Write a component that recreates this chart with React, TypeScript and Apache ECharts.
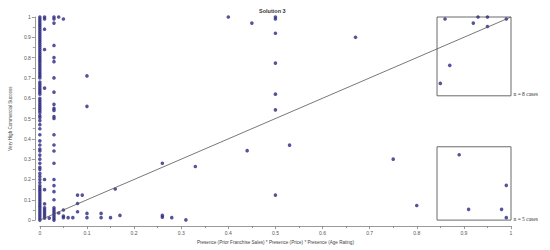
import React, { useEffect, useRef } from "react";
import * as echarts from "echarts";

// Column at x = 0
const col0Y = [1, 0.99, 0.98, 0.97, 0.96, 0.95, 0.94, 0.93, 0.92, 0.91, 0.9, 0.89, 0.88, 0.87, 0.86, 0.85, 0.84, 0.83, 0.82, 0.81, 0.8, 0.79, 0.78, 0.77, 0.76, 0.75, 0.74, 0.73, 0.72, 0.71, 0.7, 0.68, 0.67, 0.66, 0.65, 0.64, 0.63, 0.62, 0.6, 0.59, 0.58, 0.57, 0.56, 0.55, 0.54, 0.53, 0.515, 0.505, 0.49, 0.47, 0.45, 0.42, 0.39, 0.37, 0.35, 0.34, 0.32, 0.3, 0.28, 0.26, 0.25, 0.23, 0.215, 0.2, 0.185, 0.17, 0.16, 0.15, 0.14, 0.13, 0.12, 0.11, 0.1, 0.09, 0.08, 0.07, 0.06, 0.05, 0.04, 0.03, 0.02, 0.01, 0];
// Column at x = 0.01
const col01Y = [1, 0.99, 0.94, 0.84, 0.65, 0.2, 0.15, 0.08, 0.06, 0.05, 0.04, 0.03, 0.02, 0.01];
// Column at x = 0.03
const col03Y = [1, 0.99, 0.97, 0.86, 0.8, 0.78, 0.7, 0.63, 0.57, 0.55, 0.54, 0.51, 0.5, 0.42, 0.37, 0.34, 0.28, 0.2, 0.17, 0.14, 0.1, 0.06, 0.05, 0.04, 0.03, 0.02, 0.01, 0];
// Remaining cases
const otherX = [0.04, 0.05, 0.1, 0.1, 0.02, 0.04, 0.05, 0.05, 0.05, 0.06, 0.07, 0.08, 0.09, 0.08, 0.08, 0.1, 0.1, 0.13, 0.13, 0.15, 0.16, 0.17, 0.26, 0.26, 0.26, 0.28, 0.31, 0.33, 0.4, 0.45, 0.5, 0.5, 0.5, 0.5, 0.5, 0.5, 0.44, 0.53, 0.5, 0.67, 0.75, 0.8, 0.86, 0.93, 0.95, 0.92, 0.95, 0.99, 0.87, 0.85, 0.89, 0.91, 0.98, 0.99, 0.99];
const otherY = [1, 0.99, 0.71, 0.56, 0.01, 0.035, 0.05, 0.02, 0.012, 0.012, 0.012, 0.123, 0.123, 0.082, 0.041, 0.033, 0.012, 0.033, 0.012, 0.012, 0.153, 0.023, 0.28, 0.023, 0.014, 0.012, 0.001, 0.264, 1, 0.97, 1, 0.99, 0.92, 0.773, 0.62, 0.543, 0.342, 0.369, 0.123, 0.9, 0.3, 0.072, 0.99, 1, 1, 0.97, 0.953, 0.99, 0.762, 0.673, 0.322, 0.053, 0.053, 0.171, 0.012];
// Diagonal reference line
const lineX = [0, 1];
const lineY = [0, 1];
// Highlight boxes
const boxX1 = [0.843, 0.843];
const boxX2 = [1.017, 1.017];
const boxY1 = [0.612, -0.012];
const boxY2 = [1.054, 0.361];
const boxLabels = ["n = 8 cases", "n = 5 cases"];

const TITLE = "Solution 3";
const X_NAME = "Presence (Prior Franchise Sales) * Presence (Price) * Presence (Age Rating)";
const Y_NAME = "Very High Commercial Success";

export default function App() {
  const ref = useRef<HTMLDivElement>(null);
  useEffect(() => {
    document.body.style.margin = "0";
    if (!ref.current) return;
    const chart = echarts.init(ref.current, null, { renderer: "svg" });
    const pts: number[][] = [];
    col0Y.forEach((y) => pts.push([0, y]));
    col01Y.forEach((y) => pts.push([0.01, y]));
    col03Y.forEach((y) => pts.push([0.03, y]));
    otherX.forEach((x, i) => pts.push([x, otherY[i]]));
    const axisCommon = {
      type: "value" as const,
      min: 0,
      max: 1,
      interval: 0.1,
      splitLine: { show: false },
      axisLine: { show: true, onZero: false, lineStyle: { color: "#808080", width: 0.8 } },
      axisTick: { show: true, length: 3, lineStyle: { color: "#808080", width: 0.8 } },
      minorTick: { show: true, splitNumber: 2, length: 2, lineStyle: { color: "#808080", width: 0.8 } },
      axisLabel: { fontSize: 5, color: "#555", fontFamily: "Liberation Sans" },
      nameLocation: "middle" as const,
      nameTextStyle: { fontSize: 4.6, color: "#444", fontFamily: "Liberation Sans" },
    };
    chart.setOption({
      animation: false,
      backgroundColor: "#fff",
      title: {
        text: TITLE,
        left: 254,
        top: 3,
        textStyle: { fontSize: 5.5, fontWeight: "bold", color: "#333", fontFamily: "Liberation Sans" },
      },
      grid: { left: 26, right: 39, top: 17, bottom: 28 },
      xAxis: {
        ...axisCommon,
        offset: 6,
        name: X_NAME,
        nameGap: 12,
        axisLabel: { ...axisCommon.axisLabel, margin: 4 },
      },
      yAxis: {
        ...axisCommon,
        offset: 5,
        name: Y_NAME,
        nameGap: 11,
        axisLabel: { ...axisCommon.axisLabel, margin: 4 },
      },
      series: [
        {
          type: "line",
          data: lineX.map((x, i) => [x, lineY[i]]),
          symbol: "none",
          lineStyle: { color: "#555", width: 0.8 },
          silent: true,
        },
        {
          type: "scatter",
          data: pts,
          symbolSize: 3.6,
          itemStyle: { color: "#2b2880" },
          clip: false,
        },
        {
          type: "scatter",
          data: [],
          clip: false,
          markArea: {
            silent: true,
            itemStyle: { color: "rgba(0,0,0,0)", borderColor: "#6a6a6a", borderWidth: 1 },
            label: {
              show: true,
              position: ["100%", "100%"],
              align: "left",
              verticalAlign: "bottom",
              offset: [2, 1],
              fontSize: 5.5,
              color: "#333",
              fontFamily: "Liberation Serif",
            },
            data: boxLabels.map((name, i) => [
              { name, xAxis: boxX1[i], yAxis: boxY1[i] },
              { xAxis: boxX2[i], yAxis: boxY2[i] },
            ]),
          },
        },
      ],
    });
    return () => chart.dispose();
  }, []);
  return <div ref={ref} style={{ width: 550, height: 250 }} />;
}
